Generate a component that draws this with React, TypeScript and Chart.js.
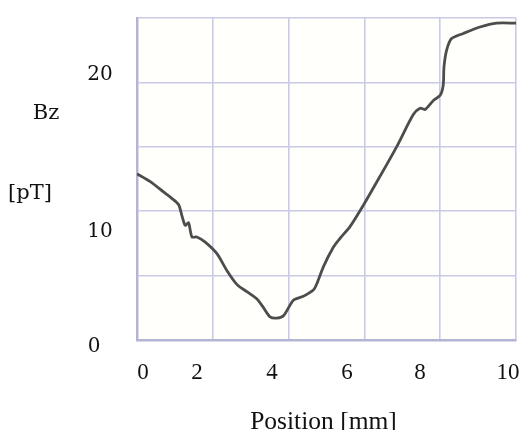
import React, { useEffect, useRef } from "react";
import { Chart, registerables } from "chart.js";

Chart.register(...registerables);

// Curve: position [mm] vs Bz [pT]
const positions = [
  0, 0.35, 0.7, 0.92, 1.1, 1.19, 1.27, 1.36, 1.45, 1.58, 1.8, 2.11, 2.37, 2.64, 2.9,
  3.16, 3.34, 3.51, 3.69, 3.87, 4.13, 4.39, 4.66, 4.75, 4.92, 5.18, 5.36, 5.62, 5.98,
  6.41, 6.85, 7.29, 7.47, 7.6, 7.82, 8.0, 8.08, 8.1, 8.17, 8.3, 8.61, 9.05, 9.49, 10.0,
];
const bz = [
  12.9, 12.3, 11.5, 11.0, 10.5, 9.6, 8.9, 9.1, 8.0, 8.0, 7.6, 6.7, 5.4, 4.3, 3.75,
  3.2, 2.5, 1.8, 1.7, 1.9, 3.1, 3.4, 3.9, 4.4, 5.7, 7.2, 7.9, 8.8, 10.5,
  12.7, 15.0, 17.5, 18.0, 17.9, 18.6, 19.0, 19.8, 21.2, 22.5, 23.4, 23.8, 24.3, 24.6, 24.6,
];

// Tick labels and the axis values where they sit in the picture
const xTickLabels = ["0", "2", "4", "6", "8", "10"];
const xTickAt = [0.16, 1.58, 3.56, 5.54, 7.47, 9.79];
const yTickLabels = ["20", "10", "0"];
const yTickAt = [20.6, 8.4, -0.5];

const xTitle = "Position [mm]";
const yTitleTop = "Bz";
const yTitleBottom = "[pT]";
const yTitleTopAt = 17.6;
const yTitleBottomAt = 11.4;

const labelPlugin = {
  id: "customLabels",
  afterDraw(chart: any) {
    const { ctx, chartArea, scales } = chart;
    const xs = scales.x;
    const ys = scales.y;
    ctx.save();
    ctx.fillStyle = "#111";
    ctx.textBaseline = "middle";
    ctx.textAlign = "center";
    ctx.font = '23px "Liberation Serif"';
    xTickLabels.forEach((t, i) => {
      ctx.fillText(t, xs.getPixelForValue(xTickAt[i]), chartArea.bottom + 33);
    });
    ctx.font = '25.5px "Liberation Serif"';
    ctx.fillText(xTitle, (chartArea.left + chartArea.right) / 2 - 3, chartArea.bottom + 82);
    ctx.font = '20px "DejaVu Serif"';
    yTickLabels.forEach((t, i) => {
      const dx = t === "0" ? -43 : -37;
      ctx.fillText(t, chartArea.left + dx, ys.getPixelForValue(yTickAt[i]));
    });
    ctx.font = '21px "DejaVu Serif"';
    ctx.fillText(yTitleTop, chartArea.left - 91, ys.getPixelForValue(yTitleTopAt));
    ctx.fillText(yTitleBottom, chartArea.left - 107, ys.getPixelForValue(yTitleBottomAt));
    ctx.restore();
  },
};

const bgPlugin = {
  id: "plotBg",
  beforeDraw(chart: any) {
    const { ctx, chartArea } = chart;
    ctx.save();
    ctx.fillStyle = "#ffffff";
    ctx.fillRect(0, 0, chart.width, chart.height);
    ctx.fillStyle = "#fffffb";
    ctx.fillRect(chartArea.left, chartArea.top, chartArea.right - chartArea.left, chartArea.bottom - chartArea.top);
    ctx.restore();
  },
};

export default function App() {
  const ref = useRef<HTMLCanvasElement>(null);
  useEffect(() => {
    if (!ref.current) return;
    const data = positions.map((x, i) => ({ x, y: bz[i] }));
    const chart = new Chart(ref.current, {
      type: "line",
      data: {
        datasets: [
          {
            data,
            borderColor: "#4d4d4d",
            borderWidth: 2.8,
            pointRadius: 0,
            tension: 0.25,
            fill: false,
          },
        ],
      },
      options: {
        animation: false,
        responsive: false,
        maintainAspectRatio: false,
        layout: { padding: { left: 137, top: 18, right: 7, bottom: 90 } },
        plugins: { legend: { display: false }, tooltip: { enabled: false } },
        scales: {
          x: {
            type: "linear",
            min: 0,
            max: 10,
            ticks: { stepSize: 2, display: false },
            grid: { color: "#c9c9e8", lineWidth: 1.6, drawTicks: false },
            border: { color: "#b4b4d4", width: 2.5 },
          },
          y: {
            type: "linear",
            min: 0,
            max: 25,
            ticks: { stepSize: 5, display: false },
            grid: { color: "#c9c9e8", lineWidth: 1.6, drawTicks: false },
            border: { color: "#b4b4d4", width: 2.5 },
          },
        },
      },
      plugins: [bgPlugin, labelPlugin],
    });
    return () => chart.destroy();
  }, []);
  return (
    <div style={{ position: "absolute", left: 0, top: 0, width: 523, height: 430 }}>
      <canvas ref={ref} width={523} height={430} />
    </div>
  );
}
